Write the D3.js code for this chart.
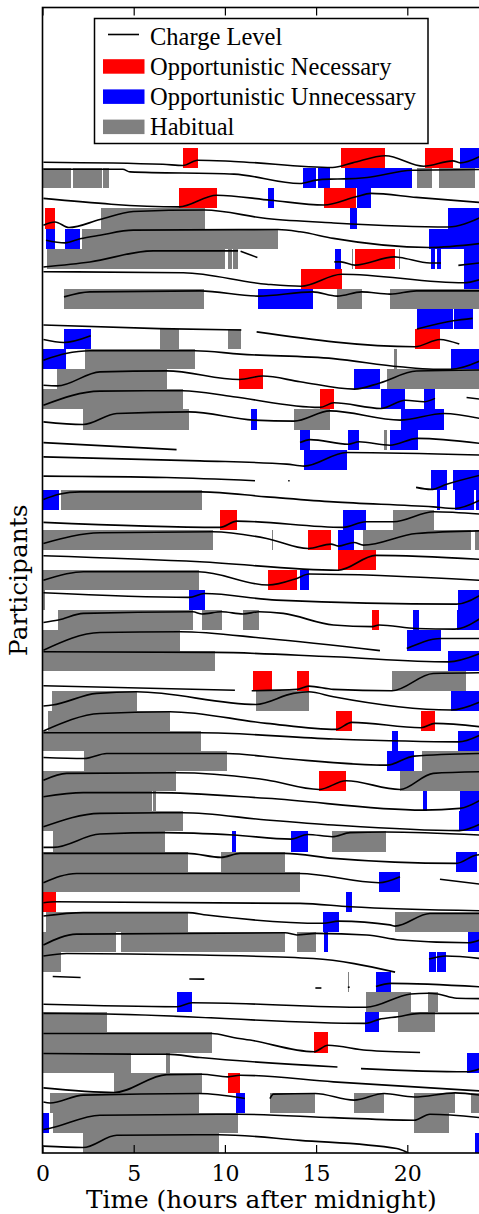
<!DOCTYPE html>
<html>
<head>
<meta charset="utf-8">
<script src="https://cdnjs.cloudflare.com/ajax/libs/d3/7.8.5/d3.min.js"></script>
<style>
  body { margin: 0; background: #fff; }
  .serif { font-family: "DejaVu Serif", serif; }
  .times { font-family: "Liberation Serif", "Times New Roman", serif; }
</style>
</head>
<body>
<div id="chart"></div>
<script>
const width = 479;
const height = 1214;

// participants, counted from the top row (0) down to the bottom row (49)
const participants = d3.range(50);
const hourTicks = [0, 5, 10, 15, 20];

// charging events: [participant, start hour, end hour]
const necessary = [
  [0, 7.7, 8.53], [0, 16.36, 18.78], [0, 20.97, 22.49],
  [2, 7.48, 9.55], [2, 15.43, 17.19], [3, 0.14, 0.69],
  [5, 17.13, 19.3], [6, 14.17, 16.4], [9, 20.42, 21.79],
  [11, 10.79, 12.07], [12, 15.21, 15.98], [18, 9.73, 10.66],
  [19, 14.56, 15.82], [20, 16.22, 18.27], [21, 12.38, 13.94],
  [23, 18.08, 18.45], [26, 11.56, 12.56], [26, 13.97, 14.59],
  [28, 16.09, 16.95], [28, 20.75, 21.52], [31, 15.16, 16.64],
  [37, 0.05, 0.72], [44, 14.88, 15.65], [46, 10.17, 10.83]
];

const unnecessary = [
  [0, 22.9, 24],
  [1, 14.28, 15.0], [1, 15.12, 15.76], [1, 16.58, 20.26],
  [2, 12.37, 12.69], [2, 17.23, 18.0],
  [3, 16.86, 17.23], [3, 22.25, 24],
  [4, 0.19, 0.69], [4, 1.23, 2.06], [4, 21.19, 24],
  [5, 16.03, 16.36], [5, 21.3, 21.52], [5, 21.63, 21.85], [5, 23.1, 24],
  [6, 23.1, 24], [7, 11.83, 14.81],
  [8, 20.53, 22.49], [8, 22.56, 23.58],
  [9, 1.18, 2.64], [10, 0.05, 1.27], [10, 22.4, 24],
  [11, 17.1, 18.5], [12, 18.56, 19.9], [12, 20.91, 21.52],
  [13, 11.43, 11.76], [13, 19.65, 22.01],
  [14, 14.12, 14.67], [14, 16.77, 17.35], [14, 19.05, 20.57],
  [15, 14.34, 16.67], [16, 21.3, 22.16], [16, 22.52, 24],
  [17, 0.05, 0.9], [17, 21.61, 21.79], [17, 22.6, 23.67], [17, 23.76, 23.93],
  [18, 16.49, 17.72], [19, 16.22, 17.08], [21, 14.12, 14.61],
  [22, 8.03, 8.89], [22, 22.8, 24], [23, 20.33, 20.66], [23, 22.74, 24],
  [24, 20.0, 21.85], [25, 22.25, 24], [27, 22.4, 24],
  [29, 19.16, 19.47], [29, 22.8, 24], [30, 18.89, 20.37],
  [32, 20.88, 21.08], [32, 22.89, 24], [33, 22.85, 24],
  [34, 10.41, 10.61], [34, 13.63, 14.54], [35, 22.67, 23.8],
  [36, 18.45, 19.6], [37, 16.64, 16.97], [38, 15.38, 16.25],
  [39, 15.43, 15.65], [39, 23.35, 24], [40, 21.19, 21.57], [40, 21.63, 22.12],
  [41, 18.28, 19.1], [42, 7.37, 8.2], [43, 17.68, 18.45],
  [45, 23.25, 24], [47, 10.61, 11.1], [48, 0.05, 0.36], [49, 23.71, 24]
];

const habitual = [
  [1, 0.05, 1.56], [1, 1.67, 3.28], [1, 3.33, 3.65], [1, 20.53, 21.34], [1, 21.76, 23.71],
  [3, 3.21, 8.89], [4, 2.17, 12.9],
  [5, 0.25, 10.0], [5, 10.19, 10.37], [5, 10.46, 10.72], [5, 16.99, 17.05], [5, 19.52, 19.6],
  [7, 1.18, 8.85], [7, 16.16, 17.5], [7, 19.05, 24],
  [9, 6.44, 7.48], [9, 10.17, 10.87],
  [10, 2.35, 8.36], [10, 19.29, 19.42],
  [11, 0.81, 6.81], [11, 18.9, 24], [12, 0.05, 7.69],
  [13, 2.22, 8.03], [13, 13.79, 15.76], [14, 18.74, 18.87],
  [17, 1.01, 8.74], [18, 19.23, 21.46],
  [19, 0.05, 9.33], [19, 12.56, 12.66], [19, 17.59, 23.47], [19, 23.71, 23.93],
  [21, 0.05, 8.56], [22, 0.02, 0.15],
  [23, 0.87, 8.24], [23, 8.75, 9.82], [23, 10.99, 11.87],
  [24, 0.05, 7.54], [25, 0.05, 9.44], [26, 19.16, 23.2],
  [27, 0.54, 5.16], [27, 11.7, 14.59], [28, 0.32, 6.99], [29, 0.05, 8.69],
  [30, 2.29, 10.12], [30, 20.82, 24], [31, 0.05, 7.32], [31, 19.6, 24],
  [32, 0.05, 6.0], [32, 6.08, 6.2], [33, 0.05, 7.69],
  [34, 0.6, 6.72], [34, 15.89, 18.83], [35, 0.05, 7.96], [35, 9.79, 13.3],
  [36, 0.05, 14.1], [38, 0.17, 7.96], [38, 19.33, 24],
  [39, 0.05, 4.01], [39, 4.3, 13.3], [39, 13.95, 15.0], [40, 0.05, 1.01],
  [41, 16.76, 16.82], [42, 17.74, 20.18], [42, 21.13, 21.67],
  [43, 0.05, 3.52], [43, 19.49, 21.52], [44, 0.05, 9.29],
  [45, 0.05, 4.85], [45, 6.75, 6.99], [46, 3.94, 8.74],
  [47, 0.41, 8.58], [47, 12.47, 14.94], [47, 17.08, 18.72], [47, 20.37, 22.62], [47, 23.49, 24],
  [48, 0.59, 10.72], [48, 20.37, 22.29], [49, 2.22, 9.68]
];

// charge level traces: [participant, [[hour, level 0..1], ...]], one entry per unbroken piece
const charge = [
  [0, [[0.05,0.30],[6.6,0.20],[7.7,0.14],[8.5,0.40],[10.5,0.34],[15.9,0.04],[17.0,0.27],[18.8,0.62],[20.9,0.10],[22.5,0.37],[22.9,0.27],[24,0.6]]],
  [1, [[0.05,0.95],[4.4,0.95],[4.8,0.82],[10.5,0.71],[14.1,0.24],[15.0,0.41],[15.76,0.46],[16.58,0.47],[17.8,0.54],[20.26,0.90],[24,0.94]]],
  [2, [[0.05,0.50],[7.48,0.08],[9.55,0.66],[12.5,0.41],[15.43,0.17],[17.19,0.58],[18.0,0.75],[20.5,0.55],[24,0.30]]],
  [3, [[0.05,0.17],[0.69,0.33],[1.45,0.05],[3.15,0.45],[4.98,0.85],[8.89,0.92],[12.29,0.50],[15.95,0.28],[22.25,0.08],[24,0.55]]],
  [4, [[0.19,0.42],[1.23,0.29],[2.06,0.49],[3.15,0.67],[4.98,0.92],[12.9,0.95],[14.12,0.84],[15.95,0.51],[21.19,0.06],[24,0.26]]],
  [5, [[0.05,0.09],[2.6,0.34],[6.07,0.89],[10.72,0.89]]],
  [5, [[10.86,0.87],[11.78,0.56]]],
  [5, [[16.0,0.34],[16.36,0.34],[17.13,0.18],[19.3,0.59],[19.6,0.56],[21.24,0.29],[21.85,0.29]]],
  [5, [[22.8,0.17],[24,0.29]]],
  [6, [[0.05,0.85],[7.72,0.80],[12.29,0.23],[14.17,0.13],[16.4,0.73],[23.1,0.30],[24,0.47]]],
  [7, [[1.18,0.60],[2.6,0.85],[8.63,0.90],[11.83,0.64],[14.81,0.85],[16.16,0.64],[17.5,0.85],[19.05,0.74],[20.5,0.9],[24,0.9]]],
  [8, [[0.05,0.2],[6.4,0.02],[10.9,-0.05]]],
  [8, [[20.53,0.0],[22.52,0.41],[23.58,0.53]]],
  [9, [[0.05,0.48],[1.15,0.33],[2.64,0.67]]],
  [9, [[11.74,0.86],[20.42,0.12],[21.79,0.48],[22.85,0.25]]],
  [10, [[0.05,0.45],[1.27,0.78],[2.6,0.92],[8.36,0.92],[10.83,0.75],[15.95,0.53],[19.6,0.12],[21.42,0.0],[22.4,0.0],[24,0.42]]],
  [11, [[0.05,0.20],[0.81,0.17],[3.15,0.87],[6.81,0.92],[10.79,0.49],[12.07,0.66],[14.12,0.38],[17.1,0.01],[18.5,0.32],[20.5,0.91],[24,0.96]]],
  [12, [[0.05,0.21],[3.15,0.91],[7.69,0.93],[10.46,0.63],[15.21,0.10],[15.98,0.33],[18.56,0.05],[19.9,0.46],[20.91,0.38],[21.52,0.55]]],
  [12, [[23.25,0.59],[24,0.51]]],
  [13, [[0.05,0.38],[2.22,0.25],[4.07,0.80],[8.03,0.88],[11.56,0.47],[13.79,0.42],[15.76,0.93],[19.6,0.47],[22.01,0.80],[24,0.55]]],
  [14, [[0.05,0.35],[7.35,0.0]]],
  [14, [[14.12,0.35],[14.67,0.5],[16.77,0.27],[17.35,0.39],[19.05,0.22],[20.57,0.56],[24,0.31]]],
  [15, [[0.05,0.64],[8.63,0.44],[13.39,0.28],[14.34,0.18],[16.67,0.86],[24,0.73]]],
  [16, [[0.05,0.68],[6.81,0.61],[11.65,0.45]]],
  [16, [[13.47,0.45],[13.55,0.45]]],
  [16, [[20.48,0.12],[21.3,0.02],[22.16,0.28],[24,0.73]]],
  [17, [[0.05,0.52],[0.9,0.78],[2.06,0.90],[8.74,0.90],[12.29,0.65],[15.95,0.40],[21.42,0.15],[22.6,0.07],[24,0.49]]],
  [18, [[0.05,0.38],[9.73,0.13],[10.66,0.44],[16.49,0.13],[17.72,0.41],[19.23,0.41],[21.46,0.91],[24,0.79]]],
  [19, [[0.05,0.33],[3.15,0.86],[9.33,0.91],[12.29,0.58],[14.56,0.08],[15.82,0.30],[16.22,0.20],[17.08,0.38],[17.59,0.25],[20.5,0.83],[24,0.96]]],
  [20, [[0.05,0.72],[8.63,0.42],[16.22,0.0],[18.27,0.74],[24,0.54]]],
  [21, [[0.05,0.50],[2.24,0.92],[8.56,0.92],[12.38,0.26],[13.94,0.59],[14.61,0.81],[24,0.50]]],
  [22, [[0.05,0.88],[8.03,0.65],[8.89,0.84],[12.84,0.51],[22.71,0.31],[24,0.76]]],
  [23, [[0.05,0.40],[0.87,0.52],[2.24,0.85],[8.24,0.93],[8.75,0.82],[9.82,0.93],[10.99,0.82],[11.87,0.93],[13.2,0.85],[15.95,0.27],[18.08,0.19],[18.45,0.27],[20.5,0.10],[22.6,0.07],[24,0.60]]],
  [24, [[0.05,0.02],[3.15,0.90],[7.54,0.94],[12.29,0.60],[18.5,0.0]]],
  [24, [[19.97,0.10],[21.85,0.60],[24,0.6]]],
  [25, [[0.05,0.94],[9.44,0.91],[15.95,0.69],[22.25,0.44],[24,0.86]]],
  [26, [[0.05,0.25],[10.55,0.03]]],
  [26, [[11.47,0.0],[13.97,0.07],[14.59,0.23],[15.95,0.07],[19.16,0.0],[21.42,0.86],[24,0.9]]],
  [27, [[0.05,0.24],[0.54,0.29],[2.97,0.87],[5.16,0.95],[11.7,0.32],[13.75,0.87],[14.59,0.95],[15.95,0.70],[22.4,0.04],[24,0.45]]],
  [28, [[0.05,0.0],[3.15,0.87],[6.99,0.96],[12.29,0.38],[16.09,0.08],[16.95,0.43],[20.75,0.16],[21.52,0.38],[24,0.21]]],
  [29, [[0.05,0.91],[8.69,0.91],[15.95,0.6],[22.8,0.46],[24,0.8]]],
  [30, [[0.05,0.68],[2.29,0.63],[3.52,0.88],[10.12,0.88],[13.2,0.63],[18.89,0.30],[20.37,0.75],[24,0.88]]],
  [31, [[0.05,0.55],[1.33,0.89],[7.32,0.92],[12.29,0.56],[15.16,0.09],[16.64,0.52],[19.6,0.09],[21.42,0.89],[24,0.97]]],
  [32, [[0.05,0.73],[2.24,0.93],[6.2,0.93],[12.29,0.65],[20.88,0.06],[22.89,0.15],[24,0.56]]],
  [33, [[0.05,0.23],[3.15,0.9],[7.69,0.93],[12.29,0.57],[15.95,0.32],[22.85,0.04],[24,0.37]]],
  [34, [[0.05,0.21],[0.6,0.21],[3.15,0.87],[6.72,0.94],[10.46,0.82],[13.63,0.62],[14.54,0.85],[15.89,0.74],[16.86,0.94],[18.83,0.97],[24,0.82]]],
  [35, [[0.05,0.91],[7.96,0.91],[9.79,0.71],[10.83,0.91],[13.3,0.91],[15.95,0.66],[22.67,0.41],[23.8,0.83],[24,0.85]]],
  [36, [[0.05,0.45],[1.87,0.91],[14.1,0.91],[18.45,0.45],[19.6,0.75]]],
  [36, [[21.79,0.62],[24,0.38]]],
  [37, [[0.05,0.45],[0.72,0.5],[14.12,0.42],[16.86,0.25],[24,0.05]]],
  [38, [[0.05,0.79],[2.24,0.96],[7.96,0.96],[9.0,0.84],[15.38,0.43],[16.25,0.54],[19.05,0.35],[19.33,0.29],[21.24,0.92],[24,0.92]]],
  [39, [[0.05,0.35],[1.87,0.89],[13.3,0.96],[13.95,0.85],[15.0,0.93],[17.77,0.85],[19.6,0.6],[23.35,0.46],[24,0.6]]],
  [40, [[0.05,0.80],[1.33,0.93],[8.63,0.85],[14.85,0.68],[19.33,0.0]]],
  [40, [[21.19,0.65],[22.12,0.80],[24,0.68]]],
  [41, [[0.56,0.78],[2.09,0.73]]],
  [41, [[8.05,0.66],[8.87,0.65]]],
  [41, [[14.96,0.21],[15.29,0.21]]],
  [41, [[16.74,0.25],[16.84,0.25]]],
  [41, [[18.28,0.29],[19.1,0.44],[24,0.27]]],
  [42, [[0.05,0.40],[7.37,0.28],[8.2,0.48],[17.74,0.25],[20.18,0.91],[21.13,0.95],[21.67,0.91],[22.7,0.70],[24,0.68]]],
  [43, [[0.05,0.95],[3.52,0.92],[17.68,0.45],[18.45,0.65],[19.49,0.78],[20.7,0.95],[24,0.95]]],
  [44, [[0.05,0.95],[9.29,0.95],[10.46,0.75],[11.38,0.62],[14.88,0.04],[15.65,0.36],[17.77,0.11],[20.7,0.0]]],
  [45, [[0.05,0.95],[4.85,0.92],[6.75,0.92],[8.63,0.75],[16.17,0.28]]],
  [45, [[17.46,0.2],[23.25,0.04],[24,0.2]]],
  [46, [[0.05,0.24],[3.94,0.01],[6.81,0.90],[8.74,0.92],[10.17,0.79],[10.83,0.87],[15.95,0.54],[24,0.09]]],
  [47, [[0.05,0.54],[0.41,0.49],[2.24,0.88],[8.58,0.96],[11.1,0.71]]],
  [47, [[12.47,0.71],[12.66,0.93],[14.94,0.96],[17.08,0.63],[18.72,0.96],[20.37,0.79],[22.62,0.99],[24,0.88]]],
  [48, [[0.05,0.17],[0.36,0.22],[3.15,0.88],[10.72,0.93],[15.95,0.76],[20.37,0.63],[21.24,0.93],[24,0.76]]],
  [49, [[0.05,0.34],[2.22,0.27],[4.07,0.88],[9.68,0.91],[14.12,0.63],[19.42,0.22],[20.06,0.0]]]
];

const legendItems = [
  { label: "Charge Level", kind: "line", color: "#000" },
  { label: "Opportunistic Necessary", kind: "patch", color: "#ff0000" },
  { label: "Opportunistic Unnecessary", kind: "patch", color: "#0000ff" },
  { label: "Habitual", kind: "patch", color: "#808080" }
];

const plot = { left: 42.5, top: 7.5, bottom: 1153 };

const svg = d3.select("#chart")
  .append("svg")
  .attr("width", width)
  .attr("height", height);

const x = d3.scaleLinear().domain([0, 24]).range([plot.left, plot.left + 24 * 18.24]);
// 50 participant rows plus headroom for the legend
const y = d3.scaleLinear().domain([0, 57]).range([plot.bottom, plot.top]);
const rowBase = r => participants.length - 1 - r;

svg.append("clipPath").attr("id", "clip")
  .append("rect")
  .attr("x", x(0)).attr("y", y(57))
  .attr("width", x(24) - x(0)).attr("height", y(0) - y(57));

const g = svg.append("g").attr("clip-path", "url(#clip)");

function drawBars(data, color) {
  g.append("g").selectAll("rect")
    .data(data)
    .enter()
    .append("rect")
    .attr("x", d => x(d[1]))
    .attr("width", d => x(d[2]) - x(d[1]))
    .attr("y", d => y(rowBase(d[0]) + 1))
    .attr("height", d => y(rowBase(d[0])) - y(rowBase(d[0]) + 1))
    .attr("fill", color)
    .attr("shape-rendering", "crispEdges");
}

drawBars(habitual, "#808080");
drawBars(necessary, "#ff0000");
drawBars(unnecessary, "#0000ff");

const line = d3.line().curve(d3.curveMonotoneX);

g.append("g").selectAll("path")
  .data(charge)
  .enter()
  .append("path")
  .attr("d", d => line(d[1].map(p => [x(p[0]), y(rowBase(d[0]) + p[1])])))
  .attr("fill", "none")
  .attr("stroke", "#000")
  .attr("stroke-width", 1.6)
  .attr("stroke-linecap", "butt");

// axes: bottom and top ticks point inward
const xAxis = d3.axisBottom(x).tickValues(hourTicks).tickSize(-8).tickPadding(12);
const axB = svg.append("g")
  .attr("transform", `translate(0,${plot.bottom})`)
  .call(xAxis);
axB.select(".domain").remove();
axB.selectAll("line").attr("stroke", "#000").attr("stroke-width", 1.2);
axB.selectAll("text")
  .attr("class", "serif")
  .style("font-size", "22px")
  .attr("fill", "#000");
axB.attr("font-family", null);

const axT = svg.append("g")
  .attr("transform", `translate(0,${plot.top})`)
  .call(d3.axisTop(x).tickValues(hourTicks).tickSize(-8).tickFormat(""));
axT.select(".domain").remove();
axT.selectAll("line").attr("stroke", "#000").attr("stroke-width", 1.2);

// frame
svg.append("rect")
  .attr("x", x(0)).attr("y", y(57))
  .attr("width", x(24) - x(0)).attr("height", y(0) - y(57))
  .attr("fill", "none")
  .attr("stroke", "#000")
  .attr("stroke-width", 1.6);

svg.append("text")
  .attr("class", "serif")
  .attr("x", (x(0) + x(24)) / 2)
  .attr("y", 1208)
  .attr("text-anchor", "middle")
  .style("font-size", "24.8px")
  .text("Time (hours after midnight)");

svg.append("text")
  .attr("class", "serif")
  .attr("transform", `translate(27,${(y(0) + y(57)) / 2}) rotate(-90)`)
  .attr("text-anchor", "middle")
  .style("font-size", "24.8px")
  .text("Participants");

// legend
const legend = svg.append("g");
legend.append("rect")
  .attr("x", 94.5).attr("y", 18.5)
  .attr("width", 333.5).attr("height", 125)
  .attr("fill", "#fff")
  .attr("stroke", "#000")
  .attr("stroke-width", 1.5);

const item = legend.selectAll("g.item")
  .data(legendItems)
  .enter()
  .append("g")
  .attr("class", "item")
  .attr("transform", (d, i) => `translate(0,${44.5 + i * 30.2})`);

item.filter(d => d.kind === "line")
  .append("line")
  .attr("x1", 108).attr("x2", 139)
  .attr("y1", -10).attr("y2", -10)
  .attr("stroke", d => d.color)
  .attr("stroke-width", 1.6);

item.filter(d => d.kind === "patch")
  .append("rect")
  .attr("x", 103).attr("y", -15.5)
  .attr("width", 41.5).attr("height", 14.5)
  .attr("fill", d => d.color);

item.append("text")
  .attr("class", "times")
  .attr("x", 150)
  .style("font-size", "24.5px")
  .text(d => d.label);
</script>
</body>
</html>
